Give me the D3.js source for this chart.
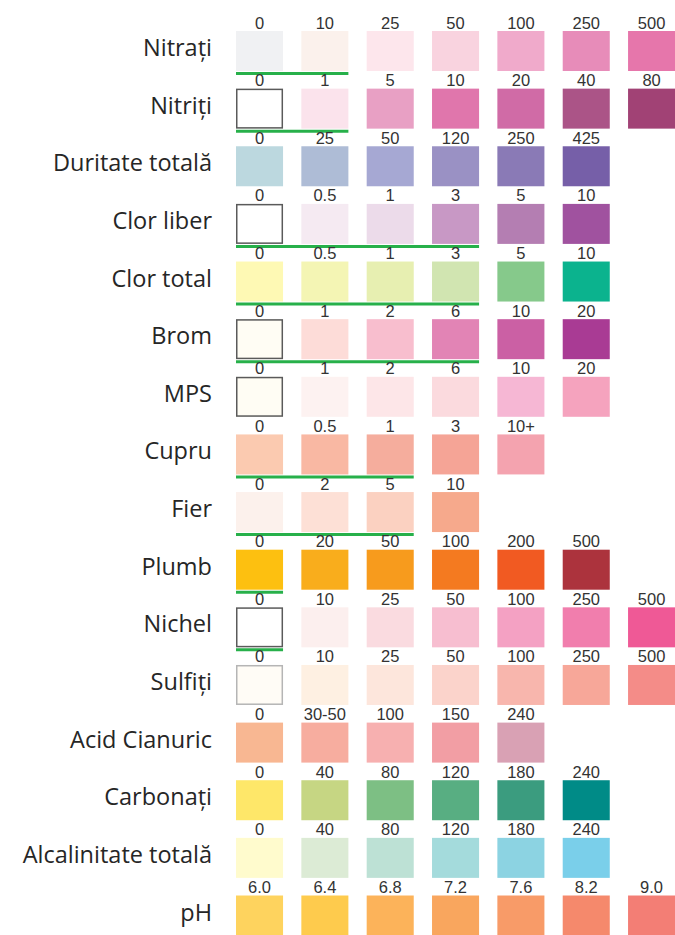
<!DOCTYPE html>
<html>
<head>
<meta charset="utf-8">
<script src="https://cdn.jsdelivr.net/npm/d3@7"></script>
<style>
  body { margin: 0; background: #fff; }
</style>
</head>
<body>
<div id="chart"></div>
<script>
// test names, one per row
const rowNames = ["Nitrați", "Nitriți", "Duritate totală", "Clor liber", "Clor total", "Brom", "MPS",
  "Cupru", "Fier", "Plumb", "Nichel", "Sulfiți", "Acid Cianuric", "Carbonați", "Alcalinitate totală", "pH"];

// reading for each swatch
const rowLabels = [
  ["0", "10", "25", "50", "100", "250", "500"],
  ["0", "1", "5", "10", "20", "40", "80"],
  ["0", "25", "50", "120", "250", "425"],
  ["0", "0.5", "1", "3", "5", "10"],
  ["0", "0.5", "1", "3", "5", "10"],
  ["0", "1", "2", "6", "10", "20"],
  ["0", "1", "2", "6", "10", "20"],
  ["0", "0.5", "1", "3", "10+"],
  ["0", "2", "5", "10"],
  ["0", "20", "50", "100", "200", "500"],
  ["0", "10", "25", "50", "100", "250", "500"],
  ["0", "10", "25", "50", "100", "250", "500"],
  ["0", "30-50", "100", "150", "240"],
  ["0", "40", "80", "120", "180", "240"],
  ["0", "40", "80", "120", "180", "240"],
  ["6.0", "6.4", "6.8", "7.2", "7.6", "8.2", "9.0"]
];

// swatch colours
const rowColors = [
  ["#f0f1f3", "#fbf1ec", "#fde6ec", "#f9d3df", "#f0aacb", "#e78cb9", "#e676ab"],
  ["#ffffff", "#fbe3ec", "#e8a0c4", "#e076ac", "#d06ba6", "#ab5487", "#a14275"],
  ["#bcd8df", "#aebcd6", "#a6a8d3", "#9a91c4", "#8a7ab6", "#765fa8"],
  ["#ffffff", "#f5eaf2", "#ecdbea", "#c898c5", "#b47eb2", "#a0529f"],
  ["#fef9b4", "#f4f5b4", "#e7efb1", "#d1e5b1", "#86c98b", "#0bb38e"],
  ["#fffdf4", "#fddcd8", "#f8bece", "#e284b5", "#cb60a4", "#a93b94"],
  ["#fffdf4", "#fdf2f1", "#fde6e8", "#fbdade", "#f6b7d4", "#f5a3be"],
  ["#fbcab0", "#f9b8a3", "#f5ad9d", "#f5a496", "#f4a3af"],
  ["#fcf1ec", "#fde0d6", "#fbd1c1", "#f6a98c"],
  ["#fdc010", "#f9ad1c", "#f79b1d", "#f47a20", "#f15a22", "#ac333d"],
  ["#ffffff", "#fcefee", "#fadbe0", "#f7bed0", "#f4a1c3", "#f17ead", "#ef5996"],
  ["#fffcf6", "#fef0e2", "#fde6dc", "#fbd3cb", "#f8b6ad", "#f7a799", "#f48c88"],
  ["#f8b792", "#f7ad9f", "#f7b0b0", "#f29ea4", "#d9a1b4"],
  ["#fee769", "#c6d683", "#7dbf84", "#58ae82", "#3b9c7f", "#008b87"],
  ["#fffbcd", "#dcebd5", "#bde1d5", "#a4dbdc", "#8cd3e2", "#7acfea"],
  ["#fed35e", "#fecb4d", "#fcb35a", "#f9a65e", "#f89b68", "#f5896c", "#f37e75"]
];

// outlined first swatch (0 = none, 1 = dark, 2 = light)
const outlined = [0, 1, 0, 1, 0, 1, 1, 0, 0, 0, 1, 2, 0, 0, 0, 0];

// how many swatches get the green underline
const greenSpan = [2, 2, 0, 4, 4, 4, 0, 3, 3, 1, 1, 0, 0, 0, 0, 0];

const width = 675;
const height = 935;

const svg = d3.select("div#chart").append("svg")
    .attr("width", width)
    .attr("height", height);

const xScale = d3.scaleBand()
    .domain(d3.range(7))
    .range([236, 675.1])
    .paddingInner(0.28)
    .paddingOuter(0);

const yScale = d3.scaleBand()
    .domain(rowNames)
    .range([31, 935.5])
    .paddingInner(0.306)
    .paddingOuter(0);

const bw = xScale.bandwidth();
const bh = yScale.bandwidth();

const rows = svg.selectAll("g.row")
  .data(rowNames)
  .join("g")
    .attr("class", "row")
    .attr("transform", d => "translate(0," + yScale(d) + ")");

// row titles
rows.append("text")
    .attr("x", 212)
    .attr("y", 25)
    .attr("text-anchor", "end")
    .style("font-family", "'Open Sans', sans-serif")
    .style("font-size", "23.5px")
    .style("fill", "#262626")
    .text(d => d);

// swatches
rows.each(function(name, i) {
  const g = d3.select(this);
  const cells = rowColors[i].map((c, j) => ({ c: c, j: j, label: rowLabels[i][j] }));

  g.selectAll("rect.sw")
    .data(cells)
    .join("rect")
      .attr("class", "sw")
      .attr("x", d => xScale(d.j))
      .attr("y", 0)
      .attr("width", bw)
      .attr("height", bh)
      .attr("fill", d => d.c);

  if (outlined[i]) {
    g.append("rect")
      .attr("x", xScale(0) + 0.75)
      .attr("y", 0.75)
      .attr("width", bw - 1.5)
      .attr("height", bh - 1.5)
      .attr("fill", "none")
      .attr("stroke", outlined[i] === 2 ? "#b5b5b5" : "#5a5a5a")
      .attr("stroke-width", 1.5);
  }

  if (greenSpan[i] > 0) {
    g.append("line")
      .attr("x1", xScale(0))
      .attr("x2", xScale(greenSpan[i] - 1) + bw)
      .attr("y1", bh + 2.5)
      .attr("y2", bh + 2.5)
      .attr("stroke", "#27b04a")
      .attr("stroke-width", 3);
  }

  g.selectAll("text.val")
    .data(cells)
    .join("text")
      .attr("class", "val")
      .attr("x", d => xScale(d.j) + bw / 2)
      .attr("y", -2.5)
      .attr("text-anchor", "middle")
      .style("font-family", "'Liberation Sans', Arial, sans-serif")
      .style("font-size", "16.5px")
      .style("fill", "#333")
      .text(d => d.label);
});
</script>
</body>
</html>
